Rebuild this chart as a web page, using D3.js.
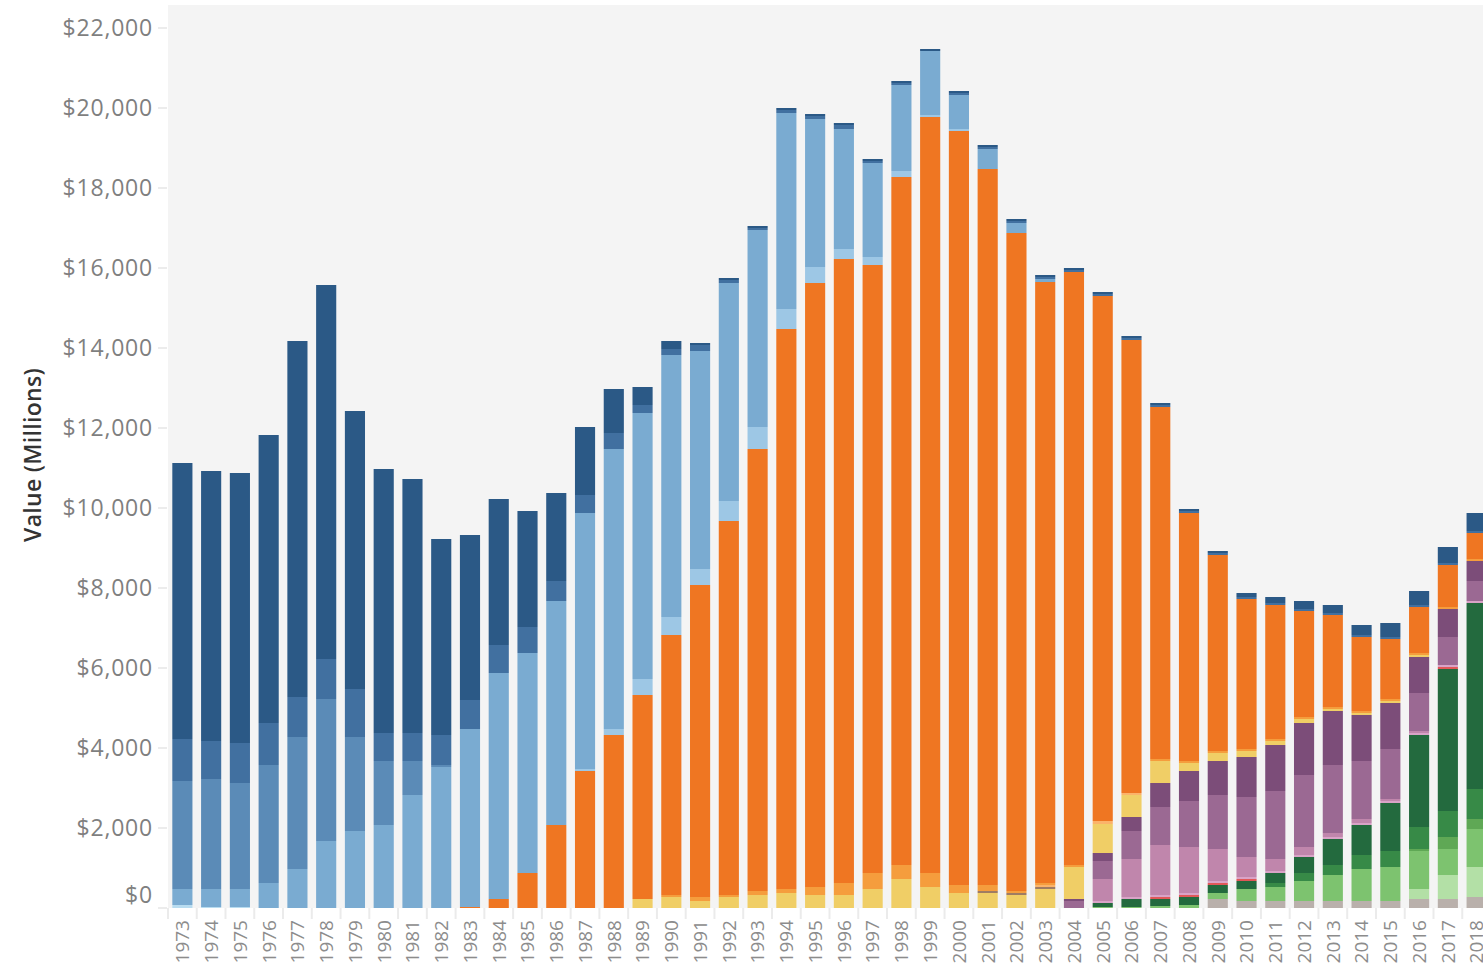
<!doctype html>
<html lang="en">
<head>
<meta charset="UTF-8">
<title>Value (Millions) by year</title>
<script src="https://cdn.jsdelivr.net/npm/d3@7"></script>
<style>
  body { margin: 0; background: #ffffff; font-family: "Open Sans", Lato, sans-serif; }
  svg { display: block; }
</style>
</head>
<body>
<div id="chart"></div>
<script>
// years on the x axis
const years = d3.range(1973, 2019);

// series values, bottom of stack first (millions)
const gray        = [0,0,0,0,0,0,0,0,0,0, 0,0,0,0,0,0,0,0,0,0, 0,0,0,0,0,0,0,0,0,0, 0,0,0,0,0,0,225,175,175,175, 175,175,175,225,225,275];
const vlGreen     = [0,0,0,0,0,0,0,0,0,0, 0,0,0,0,0,0,0,0,0,0, 0,0,0,0,0,0,0,0,0,0, 0,0,0,0,0,0,0,0,0,0, 0,0,0,250,600,750];
const lGreen      = [0,0,0,0,0,0,0,0,0,0, 0,0,0,0,0,0,0,0,0,0, 0,0,0,0,0,0,0,0,0,0, 0,0,25,25,50,75,150,300,350,500, 650,800,850,950,650,950];
const medGreen    = [0,0,0,0,0,0,0,0,0,0, 0,0,0,0,0,0,0,0,0,0, 0,0,0,0,0,0,0,0,0,0, 0,0,0,0,0,0,0,0,0,0, 0,0,0,50,300,250];
const midGreen    = [0,0,0,0,0,0,0,0,0,0, 0,0,0,0,0,0,0,0,0,0, 0,0,0,0,0,0,0,0,0,0, 0,0,0,0,0,0,0,0,100,200, 250,350,400,550,650,750];
const dkGreen     = [0,0,0,0,0,0,0,0,0,0, 0,0,0,0,0,0,0,0,0,0, 0,0,0,0,0,0,0,0,0,0, 0,0,100,200,175,200,200,200,250,400, 650,750,1200,2300,3550,4650];
const red         = [0,0,0,0,0,0,0,0,0,0, 0,0,0,0,0,0,0,0,0,0, 0,0,0,0,0,0,0,0,0,0, 0,0,0,0,50,50,50,50,0,0, 0,0,0,0,50,0];
const lightPink   = [0,0,0,0,0,0,0,0,0,0, 0,0,0,0,0,0,0,0,0,0, 0,0,0,0,0,0,0,0,0,0, 0,0,50,50,50,50,50,50,50,50, 50,50,50,50,50,50];
const pinkPurple  = [0,0,0,0,0,0,0,0,0,0, 0,0,0,0,0,0,0,0,0,0, 0,0,0,0,0,0,0,0,0,0, 0,0,550,950,1250,1150,800,500,300,200, 100,100,50,50,0,0];
const midPurple   = [0,0,0,0,0,0,0,0,0,0, 0,0,0,0,0,0,0,0,0,0, 0,0,0,0,0,0,0,0,0,0, 0,175,450,700,950,1150,1350,1500,1700,1800, 1700,1450,1250,950,700,500];
const dkPurple    = [0,0,0,0,0,0,0,0,0,0, 0,0,0,0,0,0,0,0,0,0, 0,0,0,0,0,0,0,0,0,0, 0,50,200,350,600,750,850,1000,1150,1300, 1350,1150,1150,900,700,500];
const yellow      = [0,0,0,0,0,0,0,0,0,0, 0,0,0,0,0,0,225,275,175,275, 325,375,325,325,475,725,525,375,375,325, 475,800,725,550,550,200,200,150,100,100, 50,50,50,50,0,0];
const brown       = [0,0,0,0,0,0,0,0,0,0, 0,0,0,0,0,0,0,0,0,0, 0,0,0,0,0,0,0,0,50,50, 50,0,0,0,0,0,0,0,0,0, 0,0,0,0,0,0];
const paleOrange  = [0,0,0,0,0,0,0,0,0,0, 0,0,0,0,0,0,0,0,0,0, 0,0,0,0,0,0,0,0,0,0, 50,0,75,50,0,0,0,0,0,0, 0,0,0,0,0,0];
const lightOrange = [0,0,0,0,0,0,0,0,0,0, 0,0,0,0,0,0,0,50,100,50, 100,100,200,300,400,350,350,200,150,50, 50,50,0,0,50,50,50,50,50,50, 50,50,50,50,50,50];
const orange      = [0,0,0,0,0,0,0,0,0,0, 25,225,875,2075,3425,4325,5100,6500,7800,9350, 11050,14000,15100,15600,15200,17200,18900,18850,17900,16450, 15025,14825,13125,11325,8800,6200,4900,3750,3350,2650, 2300,1850,1500,1150,1050,650];
const vlBlue      = [75,25,25,0,0,0,0,0,0,0, 0,0,0,0,0,0,0,0,0,0, 0,0,0,0,0,0,0,0,0,0, 0,0,0,0,0,0,0,0,0,0, 0,0,0,0,0,0];
const lighterBlue = [0,0,0,0,0,0,0,0,0,0, 0,0,0,0,50,150,400,450,400,500, 550,500,400,250,200,150,50,50,0,0, 0,0,0,0,0,0,0,0,0,0, 0,0,0,0,0,0];
const lightBlue   = [400,450,450,625,975,1675,1925,2075,2825,3525, 4450,5650,5500,5600,6400,7000,6650,6550,5450,5450, 4925,4900,3700,3000,2350,2150,1600,850,500,250, 75,0,0,0,0,0,0,0,0,0, 0,0,0,0,0,0];
const steelBlue   = [2700,2750,2650,2950,3300,3550,2350,1600,850,50, 0,0,0,0,0,0,0,0,0,0, 0,0,0,0,0,0,0,0,0,0, 0,0,0,0,0,0,0,0,0,0, 0,0,0,0,0,0];
const midBlue     = [1050,950,1000,1050,1000,1000,1200,700,700,750, 725,700,650,500,450,400,200,150,150,75, 50,75,75,100,50,50,0,50,50,50, 50,50,50,50,50,50,50,50,50,50, 50,50,50,50,50,50];
const navy        = [6900,6750,6750,7200,8900,9350,6950,6600,6350,4900, 4125,3650,2900,2200,1700,1100,450,200,50,50, 50,50,50,50,50,50,50,50,50,50, 50,50,50,50,50,50,50,100,150,200, 200,250,350,350,400,450];

const seriesKeys = ["gray", "vlGreen", "lGreen", "medGreen", "midGreen", "dkGreen", "red", "lightPink",
  "pinkPurple", "midPurple", "dkPurple", "yellow", "brown", "paleOrange", "lightOrange", "orange",
  "vlBlue", "lighterBlue", "lightBlue", "steelBlue", "midBlue", "navy"];
const seriesValues = [gray, vlGreen, lGreen, medGreen, midGreen, dkGreen, red, lightPink,
  pinkPurple, midPurple, dkPurple, yellow, brown, paleOrange, lightOrange, orange,
  vlBlue, lighterBlue, lightBlue, steelBlue, midBlue, navy];
const seriesColors = ["#b9b0ab", "#b3e0a6", "#7dc36f", "#5fa855", "#378a47", "#236a3e", "#e05859", "#d9a3c7",
  "#c086ac", "#9b6993", "#7c4d79", "#f0ce66", "#a07c62", "#fbb36a", "#f59d3d", "#ef7622",
  "#b8dcf0", "#9dc7e5", "#7aabd1", "#5b8bb7", "#4170a0", "#2b5986"];

const yTicks = d3.range(0, 22001, 2000);

// build rows for d3.stack
const rows = years.map((yr, i) => {
  const r = { year: yr };
  seriesKeys.forEach((k, j) => { r[k] = seriesValues[j][i]; });
  return r;
});

const W = 1483, H = 966;
const plot = { left: 168, top: 5, bottom: 908, right: 1491 };

const svg = d3.select("#chart").append("svg")
  .attr("width", W).attr("height", H);

svg.append("rect").attr("width", W).attr("height", H).attr("fill", "#ffffff");

// plot background
svg.append("rect")
  .attr("x", plot.left).attr("y", plot.top)
  .attr("width", plot.right - plot.left).attr("height", plot.bottom - plot.top)
  .attr("fill", "#f4f4f4");

const x = d3.scaleBand()
  .domain(years)
  .range([plot.left, plot.right])
  .paddingInner(0.3)
  .paddingOuter(0.15);

const y = d3.scaleLinear()
  .domain([0, (plot.bottom - plot.top) * 25])
  .range([plot.bottom, plot.top]);

const stacked = d3.stack().keys(seriesKeys)(rows);

svg.append("g").selectAll("g")
  .data(stacked)
  .join("g")
  .attr("fill", (d, i) => seriesColors[i])
  .selectAll("rect")
  .data(d => d.filter(p => p[1] > p[0]))
  .join("rect")
  .attr("x", d => x(d.data.year))
  .attr("width", x.bandwidth())
  .attr("y", d => y(d[1]))
  .attr("height", d => y(d[0]) - y(d[1]));

// separators between year labels
const step = x.step();
svg.append("g").selectAll("line")
  .data(d3.range(years.length + 1))
  .join("line")
  .attr("x1", i => plot.left + i * step)
  .attr("x2", i => plot.left + i * step)
  .attr("y1", plot.bottom)
  .attr("y2", plot.bottom + 11)
  .attr("stroke", "#ebebeb")
  .attr("stroke-width", 2);

// x labels, rotated
svg.append("g").selectAll("text")
  .data(years)
  .join("text")
  .attr("transform", d => `translate(${x(d) + x.bandwidth() / 2},${plot.bottom + 12}) rotate(-90)`)
  .attr("text-anchor", "end")
  .attr("dy", "0.36em")
  .attr("fill", "#8c8c8c")
  .style("font-size", "19px")
  .text(d => d);

// y axis
const yAxis = svg.append("g");
yAxis.selectAll("line")
  .data(yTicks)
  .join("line")
  .attr("x1", plot.left - 10).attr("x2", plot.left - 1)
  .attr("y1", d => y(d)).attr("y2", d => y(d))
  .attr("stroke", "#e6e6e6")
  .attr("stroke-width", 1.5);

yAxis.selectAll("text")
  .data(yTicks)
  .join("text")
  .attr("x", 153)
  .attr("y", d => d === 0 ? y(d) - 13 : y(d))
  .attr("dy", "0.36em")
  .attr("text-anchor", "end")
  .attr("fill", "#7f7f7f")
  .style("font-size", "23px")
  .style("letter-spacing", "0.8px")
  .text(d => "$" + d3.format(",")(d));

svg.append("text")
  .attr("transform", "translate(33,455) rotate(-90)")
  .attr("text-anchor", "middle")
  .attr("dy", "0.36em")
  .attr("fill", "#333333")
  .style("font-size", "23px")
  .style("font-weight", "600")
  .style("letter-spacing", "0.3px")
  .text("Value (Millions)");
</script>
</body>
</html>
